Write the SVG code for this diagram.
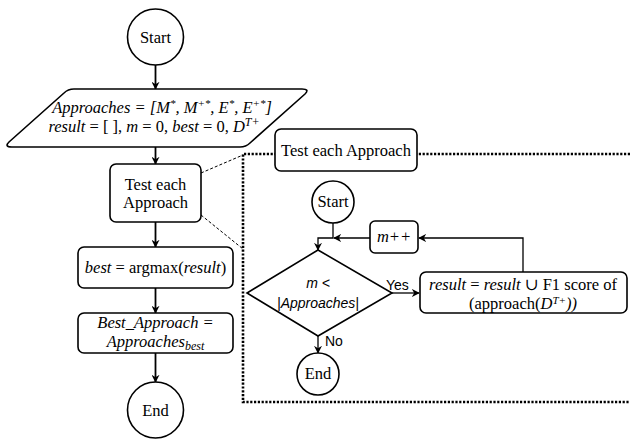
<svg xmlns="http://www.w3.org/2000/svg" width="630" height="439" viewBox="0 0 630 439">
<defs>
<marker id="ah" viewBox="0 0 10 10" refX="9" refY="5" markerWidth="8" markerHeight="8" markerUnits="userSpaceOnUse" orient="auto"><path d="M0,0 L10,5 L0,10 L3,5 Z" fill="#000"/></marker>
</defs>
<style>
.s{fill:#fff;stroke:#000;stroke-width:1.6}
.t{font-family:"Liberation Serif","DejaVu Serif",serif;font-size:16.5px;fill:#000;text-anchor:middle}
.ss{font-family:"Liberation Sans",Arial,sans-serif;font-size:14px;fill:#000}
.c{stroke:#000;stroke-width:1.3;fill:none;marker-end:url(#ah)}
.c2{stroke:#000;stroke-width:1.8;fill:none;marker-end:url(#ah)}
</style>
<rect width="630" height="439" fill="#fff"/>
<g id="zoomframe">
<path d="M630,154 H243 V402 H630" fill="none" stroke="#000" stroke-width="2.6" stroke-dasharray="2.2 1.6"/>
<line x1="201" y1="173" x2="243" y2="155" stroke="#000" stroke-width="1" stroke-dasharray="3 2"/>
<line x1="201" y1="215" x2="243" y2="249" stroke="#000" stroke-width="1" stroke-dasharray="3 2"/>
</g>
<g id="connectors">
<line class="c2" x1="155.5" y1="65" x2="155.5" y2="89"/>
<line class="c2" x1="155.5" y1="147" x2="155.5" y2="164"/>
<line class="c2" x1="155.5" y1="222" x2="155.5" y2="247"/>
<line class="c2" x1="155.5" y1="288" x2="155.5" y2="313"/>
<line class="c2" x1="155.5" y1="353" x2="155.5" y2="382"/>
<path class="c" d="M333,223 V238 H318 V250"/>
<path class="c" d="M370,238 H334"/>
<path class="c" d="M523,272 V238 H419"/>
<line class="c" x1="392" y1="293" x2="419" y2="293"/>
<line class="c" x1="318" y1="336" x2="318" y2="353"/>
<text class="ss" x="386" y="290">Yes</text>
<text class="ss" x="325" y="346">No</text>
</g>
<g id="start">
<circle class="s" cx="155.5" cy="37" r="28"/>
<text class="t" x="155.5" y="43">Start</text>
</g>
<g id="init">
<path class="s" d="M74,89 H302 Q310,89 305,94 L250,143 Q246,147 240,147 H12 Q4,147 9,142 L64,93 Q68,89 74,89 Z"/>
<text class="t" x="162" y="113"><tspan font-style="italic">Approaches = [M<tspan dy="-6" font-size="11">*</tspan><tspan dy="6">, M</tspan><tspan dy="-6" font-size="11">+*</tspan><tspan dy="6">,  E</tspan><tspan dy="-6" font-size="11">*</tspan><tspan dy="6">, E</tspan><tspan dy="-6" font-size="11">+*</tspan><tspan dy="6">]</tspan></tspan></text>
<text class="t" x="154" y="132"><tspan font-style="italic">result</tspan> = [ ], <tspan font-style="italic">m</tspan> = 0, <tspan font-style="italic">best</tspan> = 0, <tspan font-style="italic">D</tspan><tspan font-style="italic" dy="-6" font-size="12">T+</tspan></text>
</g>
<g id="test">
<rect class="s" x="110" y="164" width="91" height="58" rx="6"/>
<text class="t" x="155.5" y="190">Test each</text>
<text class="t" x="155.5" y="208">Approach</text>
</g>
<g id="best">
<rect class="s" x="78" y="247" width="155" height="41" rx="6"/>
<text class="t" x="155.5" y="273"><tspan font-style="italic">best</tspan> = argmax(<tspan font-style="italic">result</tspan>)</text>
</g>
<g id="bestapproach">
<rect class="s" x="78" y="313" width="155" height="40" rx="6"/>
<text class="t" x="155.5" y="328" font-style="italic" font-size="16">Best_Approach =</text>
<text class="t" x="155.5" y="347" font-style="italic" font-size="16">Approaches<tspan dy="3" font-size="12">best</tspan></text>
</g>
<g id="end">
<circle class="s" cx="155.5" cy="410" r="28"/>
<text class="t" x="155.5" y="416">End</text>
</g>
<g id="title">
<rect class="s" x="275" y="129" width="142" height="42" rx="6"/>
<text class="t" x="346" y="156">Test each Approach</text>
</g>
<g id="istart">
<circle class="s" cx="333" cy="202" r="21"/>
<text class="t" x="333" y="207" font-size="15">Start</text>
</g>
<g id="mpp">
<rect class="s" x="370" y="221" width="48" height="32" rx="5"/>
<text class="t" x="394" y="242" font-style="italic">m++</text>
</g>
<g id="decision">
<path class="s" d="M318,250 L392,293 L318,336 L247,293 Z"/>
<text class="ss" x="318" y="288" text-anchor="middle" font-style="italic">m &lt;</text>
<text class="ss" x="318" y="308" text-anchor="middle" font-style="italic">|Approaches|</text>
</g>
<g id="result">
<rect class="s" x="420" y="272" width="207" height="41" rx="6"/>
<text class="t" x="523" y="290"><tspan font-style="italic">result</tspan>  = <tspan font-style="italic">result</tspan> ∪ F1 score of</text>
<text class="t" x="523" y="309">(approach(<tspan font-style="italic">D</tspan><tspan font-style="italic" dy="-5" font-size="11">T+</tspan><tspan dy="5" font-style="italic">))</tspan></text>
</g>
<g id="iend">
<circle class="s" cx="318" cy="374" r="21"/>
<text class="t" x="318" y="379" font-size="15">End</text>
</g>
</svg>
